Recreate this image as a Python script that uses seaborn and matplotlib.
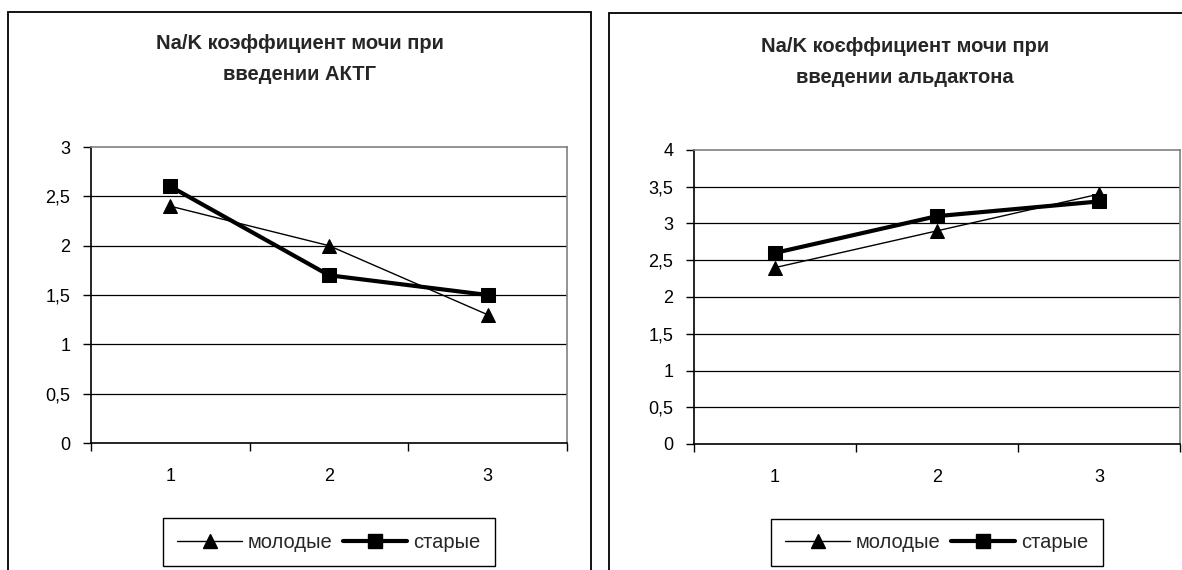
import numpy as np
import pandas as pd
import seaborn as sns
import matplotlib.pyplot as plt
from matplotlib.lines import Line2D
from matplotlib.patches import Rectangle
from matplotlib.ticker import FuncFormatter, FixedLocator

# data
points = [1, 2, 3]
groups = ["молодые", "старые"]
aktg_young = [2.4, 2.0, 1.3]
aktg_old = [2.6, 1.7, 1.5]
ald_young = [2.4, 2.9, 3.4]
ald_old = [2.6, 3.1, 3.3]
title_aktg = "Na/K коэффициент мочи при\nвведении АКТГ"
title_ald = "Na/K коєффициент мочи при\nвведении альдактона"

sns.set_theme(style="white")
plt.rcParams["font.family"] = ["Liberation Sans", "DejaVu Sans"]

W, H = 1182, 570
fig = plt.figure(figsize=(W / 100, H / 100), dpi=100)


def px_axes(x0, x1, ytop, ybot):
    return fig.add_axes([x0 / W, 1 - ybot / H, (x1 - x0) / W, (ybot - ytop) / H])


styles = {"молодые": dict(marker="^", lw=1.0, ms=10.5),
          "старые": dict(marker="s", lw=3.0, ms=10)}


def panel(ax, young, old, ymax, title, frame, title_y):
    df = pd.DataFrame({"x": points * 2,
                       "value": young + old,
                       "group": [groups[0]] * 3 + [groups[1]] * 3})
    for g in groups:
        st = styles[g]
        sns.lineplot(data=df[df.group == g], x="x", y="value", ax=ax,
                     color="black", lw=st["lw"], marker=st["marker"],
                     markersize=st["ms"], markeredgecolor="black",
                     legend=False)
    ax.set_xlim(0.5, 3.5)
    ax.set_ylim(0, ymax)
    ax.set_xlabel("")
    ax.set_ylabel("")
    yt = np.arange(0, ymax + 0.01, 0.5)
    ax.set_yticks(yt)
    ax.yaxis.set_major_formatter(FuncFormatter(lambda v, p: ("%g" % v).replace(".", ",")))
    ax.set_xticks(points)
    ax.xaxis.set_minor_locator(FixedLocator([0.5, 1.5, 2.5, 3.5]))
    ax.tick_params(axis="x", which="major", length=0, pad=18, labelsize=13, colors="black")
    ax.tick_params(axis="x", which="minor", length=6, width=1, direction="out",
                   bottom=True, color="black")
    ax.tick_params(axis="y", length=6, width=1, direction="out", left=True,
                   pad=9, labelsize=13, colors="black")
    for v in yt[1:-1]:
        ax.axhline(v, color="black", lw=0.9, zorder=0)
    ax.spines["left"].set_color("black")
    ax.spines["bottom"].set_color("black")
    ax.spines["top"].set_color("#808080")
    ax.spines["right"].set_color("#808080")
    for s in ax.spines.values():
        s.set_linewidth(1.2)
    ax.set_facecolor("white")

    fx0, fx1, fy0 = frame
    fig.patches.append(Rectangle((fx0 / W, -0.1), (fx1 - fx0) / W, 1.1 - fy0 / H,
                                 transform=fig.transFigure, fill=False,
                                 edgecolor="black", lw=1.3, zorder=0))
    fig.text((fx0 + fx1) / 2 / W, 1 - title_y / H, title, ha="center", va="center",
             fontsize=14.5, fontweight="bold", linespacing=1.75)

    handles = [Line2D([], [], color="black", lw=styles[g]["lw"], marker=styles[g]["marker"],
                      markersize=styles[g]["ms"]) for g in groups]
    leg = ax.legend(handles, groups, loc="upper center", bbox_to_anchor=(0.5, -0.255),
                    ncol=2, frameon=True, fancybox=False, fontsize=14.5,
                    handlelength=3.2, handletextpad=0.3, columnspacing=0.5,
                    borderpad=0.7, borderaxespad=0, edgecolor="black", framealpha=1)
    leg.get_frame().set_linewidth(1.0)


ax1 = px_axes(91, 567, 147, 443)
panel(ax1, aktg_young, aktg_old, 3, title_aktg, (8, 591, 12), 59)

ax2 = px_axes(694, 1180, 150, 444)
panel(ax2, ald_young, ald_old, 4, title_ald, (609, 1201, 13), 62)

fig.savefig("out.png", dpi=100, facecolor="white")
